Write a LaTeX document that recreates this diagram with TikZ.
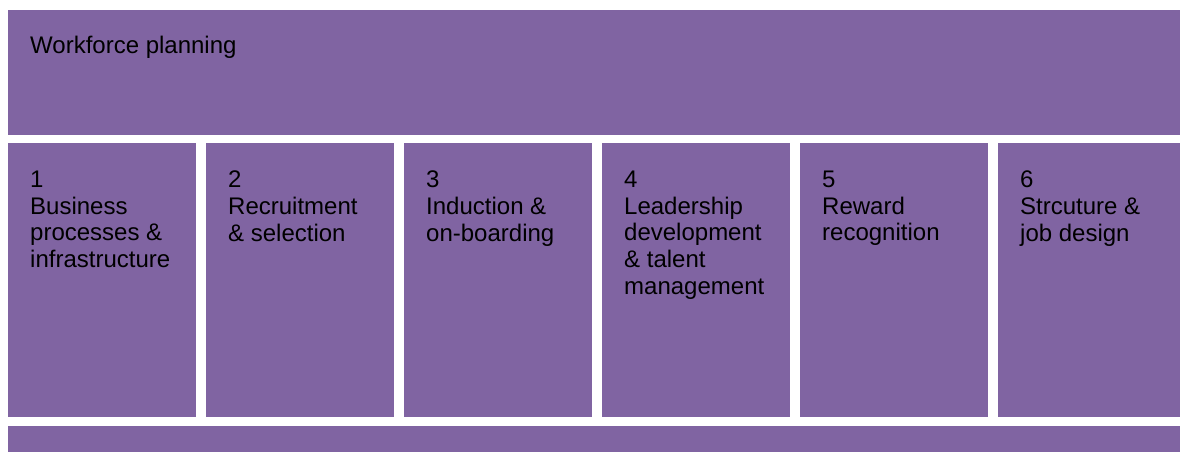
\documentclass[tikz,border=0pt]{standalone}
\usepackage{fontspec}
\setmainfont{Liberation Sans}
\usepackage{xcolor}
\usepackage{tikz}
\usetikzlibrary{positioning}
\definecolor{panelpurple}{HTML}{8064A2}
\tikzset{
     panel/.style={
           rectangle,
           fill=panelpurple,
           %draw=black, very thick,
           inner sep=0pt,
           outer sep=0pt,
           },
     caption/.style={
           %rectangle,
           %draw=black,
           inner sep=0pt,
           align=left,
           text=black,
           font=\fontsize{24}{26.8}\selectfont,
           },
}

\begin{document}
\begin{tikzpicture}
	\useasboundingbox (0,0) rectangle (1180pt,452pt);
	\tikzset{colwidth/.style={minimum width=188pt, minimum height=274pt},};

	% header bar
	\node[panel, anchor=north west, minimum width=1172pt, minimum height=125pt] (top) at (8pt,442pt) {};
	\node[caption, anchor=north west] (toptext) at ([shift={(22pt,-25.5pt)}]top.north west) {Workforce planning};

	% the six columns
	\node[panel, colwidth, anchor=north west] (c1) at (8pt,309pt) {};
	\node[panel, colwidth, right=10pt of c1] (c2) {};
	\node[panel, colwidth, right=10pt of c2] (c3) {};
	\node[panel, colwidth, right=10pt of c3] (c4) {};
	\node[panel, colwidth, right=10pt of c4] (c5) {};
	\node[panel, minimum width=182pt, minimum height=274pt, right=10pt of c5] (c6) {};

	\node[caption, anchor=north west] (t1) at ([shift={(22pt,-27.5pt)}]c1.north west) {1\\Business\\processes \&\\infrastructure};
	\node[caption, anchor=north west] (t2) at ([shift={(22pt,-27.5pt)}]c2.north west) {2\\Recruitment\\\& selection};
	\node[caption, anchor=north west] (t3) at ([shift={(22pt,-27.5pt)}]c3.north west) {3\\Induction \&\\on-boarding};
	\node[caption, anchor=north west] (t4) at ([shift={(22pt,-27.5pt)}]c4.north west) {4\\Leadership\\development\\\& talent\\management};
	\node[caption, anchor=north west] (t5) at ([shift={(22pt,-27.5pt)}]c5.north west) {5\\Reward\\recognition};
	\node[caption, anchor=north west] (t6) at ([shift={(22pt,-27.5pt)}]c6.north west) {6\\Strcuture \&\\job design};

	% footer bar, cut off at the bottom edge
	\node[panel, minimum width=1172pt, minimum height=26pt, below=9pt of c1.south west, anchor=north west] (bottom) {};
\end{tikzpicture}
\end{document}
